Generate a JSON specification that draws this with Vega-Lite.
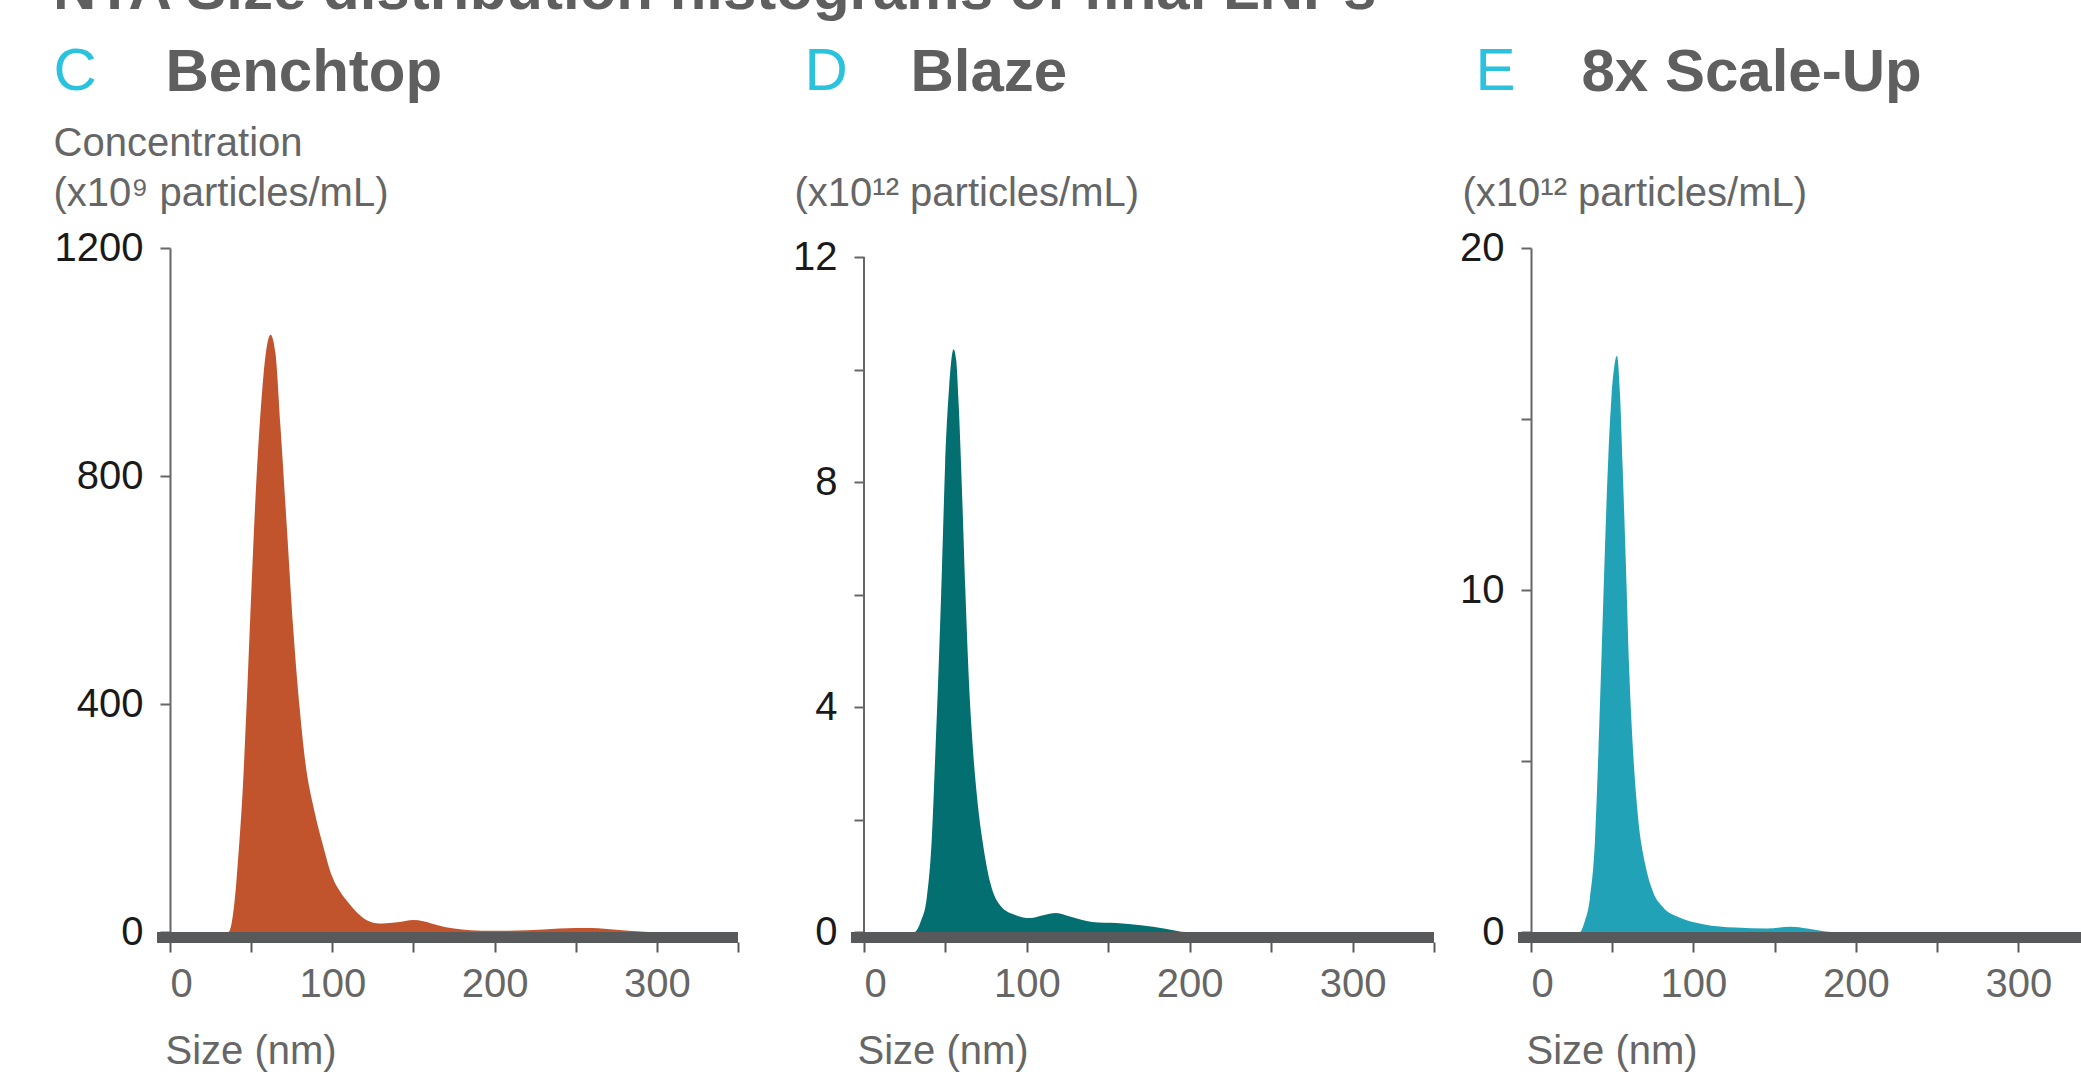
{
  "$schema": "https://vega.github.io/schema/vega-lite/v6.json",
  "autosize": {"type": "none"},
  "padding": {"left": 170, "top": 248, "right": 1911, "bottom": 834},
  "background": "white",
  "config": {
    "view": {"stroke": null},
    "font": "Liberation Sans",
    "axis": {"grid": false, "labelFont": "Liberation Sans", "titleFont": "Liberation Sans"}
  },
  "title": {
    "text": "NTA Size distribution histograms of final LNPs",
    "anchor": "start", "frame": "group", "dx": -117, "offset": 19,
    "fontSize": 60, "fontWeight": "bold", "color": "#5f5f5f", "font": "Liberation Sans"
  },
  "datasets": {
    "c": [
      {"size": 0, "conc": 0}, {"size": 30, "conc": 0}, {"size": 36, "conc": 0}, {"size": 40, "conc": 60},
      {"size": 42, "conc": 130}, {"size": 45, "conc": 260}, {"size": 47, "conc": 384}, {"size": 50, "conc": 590},
      {"size": 53, "conc": 780}, {"size": 56, "conc": 920}, {"size": 59, "conc": 1015}, {"size": 62, "conc": 1048},
      {"size": 65, "conc": 1015}, {"size": 68, "conc": 890}, {"size": 72, "conc": 710}, {"size": 76, "conc": 530},
      {"size": 80, "conc": 390}, {"size": 84, "conc": 285}, {"size": 88, "conc": 225}, {"size": 94, "conc": 155},
      {"size": 100, "conc": 97}, {"size": 105, "conc": 70}, {"size": 111, "conc": 48}, {"size": 116, "conc": 32},
      {"size": 121, "conc": 21}, {"size": 126, "conc": 16}, {"size": 131, "conc": 15}, {"size": 140, "conc": 17},
      {"size": 150, "conc": 21}, {"size": 156, "conc": 19}, {"size": 165, "conc": 12}, {"size": 175, "conc": 6},
      {"size": 185, "conc": 3}, {"size": 200, "conc": 2}, {"size": 220, "conc": 3}, {"size": 240, "conc": 6},
      {"size": 250, "conc": 7}, {"size": 260, "conc": 7}, {"size": 275, "conc": 4}, {"size": 290, "conc": 1},
      {"size": 300, "conc": 0}, {"size": 350, "conc": 0}
    ],
    "d": [
      {"size": 0, "conc": 0}, {"size": 31, "conc": 0}, {"size": 35, "conc": 0.2}, {"size": 38.6, "conc": 0.62},
      {"size": 41.6, "conc": 1.65}, {"size": 43.7, "conc": 3.1}, {"size": 45.7, "conc": 4.6}, {"size": 47.8, "conc": 6.4},
      {"size": 49.8, "conc": 8.3}, {"size": 52.3, "conc": 9.7}, {"size": 55, "conc": 10.36}, {"size": 56.6, "conc": 10.17},
      {"size": 58.1, "conc": 9.4}, {"size": 60.1, "conc": 7.9}, {"size": 62.2, "conc": 6.1}, {"size": 64.2, "conc": 4.6},
      {"size": 66.3, "conc": 3.5}, {"size": 69.4, "conc": 2.4}, {"size": 73.4, "conc": 1.5}, {"size": 77.5, "conc": 0.88},
      {"size": 83.7, "conc": 0.47}, {"size": 92, "conc": 0.31}, {"size": 102, "conc": 0.25}, {"size": 110, "conc": 0.3},
      {"size": 118, "conc": 0.34}, {"size": 127, "conc": 0.27}, {"size": 140, "conc": 0.18}, {"size": 155, "conc": 0.16},
      {"size": 170, "conc": 0.12}, {"size": 185, "conc": 0.06}, {"size": 198, "conc": 0}, {"size": 350, "conc": 0}
    ],
    "e": [
      {"size": 0, "conc": 0}, {"size": 30, "conc": 0}, {"size": 33, "conc": 0.3}, {"size": 36.3, "conc": 1.0},
      {"size": 39.4, "conc": 2.7}, {"size": 41.4, "conc": 5.15}, {"size": 43.5, "conc": 8.2}, {"size": 45.5, "conc": 11.2},
      {"size": 47.6, "conc": 13.9}, {"size": 49.6, "conc": 15.7}, {"size": 51.3, "conc": 16.55}, {"size": 52.9, "conc": 16.85},
      {"size": 54.8, "conc": 15.7}, {"size": 56.4, "conc": 13.6}, {"size": 58.5, "conc": 10.6}, {"size": 60.5, "conc": 7.6},
      {"size": 63, "conc": 5.15}, {"size": 66, "conc": 3.3}, {"size": 70.2, "conc": 2.0}, {"size": 75.3, "conc": 1.15},
      {"size": 81.4, "conc": 0.72}, {"size": 91.7, "conc": 0.42}, {"size": 106, "conc": 0.23}, {"size": 126, "conc": 0.13},
      {"size": 145, "conc": 0.1}, {"size": 160, "conc": 0.15}, {"size": 170, "conc": 0.1}, {"size": 185, "conc": 0},
      {"size": 338.5, "conc": 0}
    ]
  },
  "bounds": "flush",
  "spacing": 126,
  "hconcat": [
    {
      "width": 568, "height": 684,
      "resolve": {"axis": {"x": "independent", "y": "independent"}},
      "layer": [
        {
          "data": {"name": "c"},
          "mark": {"type": "area", "color": "#c1542d", "interpolate": "monotone"},
          "encoding": {
            "x": {"field": "size", "type": "quantitative", "scale": {"domain": [0, 350], "nice": false},
              "axis": {"orient": "bottom", "values": [0, 50, 100, 150, 200, 250, 300, 350],
                "labelExpr": "datum.value % 100 === 0 ? datum.label : ''",
                "domain": false, "offset": 10, "tickSize": 10, "tickWidth": 2, "tickColor": "#58595b",
                "labelFontSize": 40, "labelColor": "#666666", "labelPadding": 12,
                "title": "Size (nm)", "titleX": -5, "titleY": 121, "titleAlign": "left", "titleBaseline": "alphabetic",
                "titleFontSize": 40, "titleFontWeight": "normal", "titleColor": "#666666"}},
            "y": {"field": "conc", "type": "quantitative", "scale": {"domain": [0, 1200], "nice": false},
              "axis": {"orient": "left", "values": [0, 400, 800, 1200], "format": "d",
                "domainColor": "#666666", "domainWidth": 2, "tickSize": 10, "tickWidth": 2, "tickColor": "#666666",
                "labelFontSize": 40, "labelColor": "#1a1a1a", "labelPadding": 17,
                "title": ["Concentration", "(x10⁹ particles/mL)"], "titleAngle": 0, "titleX": -117, "titleY": -93,
                "titleAlign": "left", "titleBaseline": "alphabetic", "titleLineHeight": 50,
                "titleFontSize": 40, "titleFontWeight": "normal", "titleColor": "#666666"}}
          }
        },
        {
          "data": {"values": [{}]},
          "mark": {"type": "rule", "color": "#58595b", "strokeWidth": 11, "yOffset": 5.5},
          "encoding": {
            "x": {"datum": -8, "type": "quantitative",
              "axis": {"orient": "top", "domain": false, "ticks": false, "labels": false,
                "title": "C", "titleX": -117, "titleY": -159, "titleAlign": "left", "titleBaseline": "alphabetic",
                "titleFontSize": 60, "titleFontWeight": "normal", "titleColor": "#2bc2de"}},
            "x2": {"datum": 350},
            "y": {"datum": 0, "type": "quantitative",
              "axis": {"orient": "right", "domain": false, "ticks": false, "labels": false,
                "title": "Benchtop", "titleAngle": 0, "titleX": -573, "titleY": -158, "titleAlign": "left", "titleBaseline": "alphabetic",
                "titleFontSize": 60, "titleFontWeight": "bold", "titleColor": "#5f5f5f"}}
          }
        }
      ]
    },
    {
      "bounds": "flush",
      "spacing": 97,
      "hconcat": [
        {
          "width": 570, "height": 684,
          "resolve": {"axis": {"x": "independent", "y": "independent"}},
          "layer": [
            {
              "data": {"name": "d"},
              "mark": {"type": "area", "color": "#036f70", "interpolate": "monotone"},
              "encoding": {
                "x": {"field": "size", "type": "quantitative", "scale": {"domain": [0, 350], "nice": false},
                  "axis": {"orient": "bottom", "values": [0, 50, 100, 150, 200, 250, 300, 350],
                    "labelExpr": "datum.value % 100 === 0 ? datum.label : ''",
                    "domain": false, "offset": 10, "tickSize": 10, "tickWidth": 2, "tickColor": "#58595b",
                    "labelFontSize": 40, "labelColor": "#666666", "labelPadding": 12,
                    "title": "Size (nm)", "titleX": -7, "titleY": 121, "titleAlign": "left", "titleBaseline": "alphabetic",
                    "titleFontSize": 40, "titleFontWeight": "normal", "titleColor": "#666666"}},
                "y": {"field": "conc", "type": "quantitative", "scale": {"domain": [0, 12.16], "nice": false},
                  "axis": {"orient": "left", "values": [0, 2, 4, 6, 8, 10, 12],
                    "labelExpr": "datum.value % 4 === 0 ? datum.label : ''",
                    "domain": false, "tickSize": 10, "tickWidth": 2, "tickColor": "#666666",
                    "labelFontSize": 40, "labelColor": "#1a1a1a", "labelPadding": 17,
                    "title": "(x10¹² particles/mL)", "titleAngle": 0, "titleX": -70, "titleY": -43,
                    "titleAlign": "left", "titleBaseline": "alphabetic",
                    "titleFontSize": 40, "titleFontWeight": "normal", "titleColor": "#666666"}}
              }
            },
            {
              "data": {"values": [{}]},
              "mark": {"type": "rule", "color": "#666666", "strokeWidth": 2},
              "encoding": {
                "x": {"datum": 0, "type": "quantitative", "axis": null},
                "y": {"datum": 0, "type": "quantitative", "axis": null},
                "y2": {"datum": 12}
              }
            },
            {
              "data": {"values": [{}]},
              "mark": {"type": "rule", "color": "#58595b", "strokeWidth": 11, "yOffset": 5.5},
              "encoding": {
                "x": {"datum": -8, "type": "quantitative",
                  "axis": {"orient": "top", "domain": false, "ticks": false, "labels": false,
                    "title": "D", "titleX": -60, "titleY": -159, "titleAlign": "left", "titleBaseline": "alphabetic",
                    "titleFontSize": 60, "titleFontWeight": "normal", "titleColor": "#2bc2de"}},
                "x2": {"datum": 350},
                "y": {"datum": 0, "type": "quantitative",
                  "axis": {"orient": "right", "domain": false, "ticks": false, "labels": false,
                    "title": "Blaze", "titleAngle": 0, "titleX": -524, "titleY": -158, "titleAlign": "left", "titleBaseline": "alphabetic",
                    "titleFontSize": 60, "titleFontWeight": "bold", "titleColor": "#5f5f5f"}}
              }
            }
          ]
        },
        {
          "width": 550, "height": 684,
          "resolve": {"axis": {"x": "independent", "y": "independent"}},
          "layer": [
            {
              "data": {"name": "e"},
              "mark": {"type": "area", "color": "#22a2b7", "interpolate": "monotone"},
              "encoding": {
                "x": {"field": "size", "type": "quantitative", "scale": {"domain": [0, 338.5], "nice": false},
                  "axis": {"orient": "bottom", "values": [0, 50, 100, 150, 200, 250, 300],
                    "labelExpr": "datum.value % 100 === 0 ? datum.label : ''",
                    "domain": false, "offset": 10, "tickSize": 10, "tickWidth": 2, "tickColor": "#58595b",
                    "labelFontSize": 40, "labelColor": "#666666", "labelPadding": 12,
                    "title": "Size (nm)", "titleX": -5, "titleY": 121, "titleAlign": "left", "titleBaseline": "alphabetic",
                    "titleFontSize": 40, "titleFontWeight": "normal", "titleColor": "#666666"}},
                "y": {"field": "conc", "type": "quantitative", "scale": {"domain": [0, 20], "nice": false},
                  "axis": {"orient": "left", "values": [0, 5, 10, 15, 20],
                    "labelExpr": "datum.value % 10 === 0 ? datum.label : ''",
                    "domainColor": "#666666", "domainWidth": 2, "tickSize": 10, "tickWidth": 2, "tickColor": "#666666",
                    "labelFontSize": 40, "labelColor": "#1a1a1a", "labelPadding": 17,
                    "title": "(x10¹² particles/mL)", "titleAngle": 0, "titleX": -69, "titleY": -43,
                    "titleAlign": "left", "titleBaseline": "alphabetic",
                    "titleFontSize": 40, "titleFontWeight": "normal", "titleColor": "#666666"}}
              }
            },
            {
              "data": {"values": [{}]},
              "mark": {"type": "rule", "color": "#58595b", "strokeWidth": 11, "yOffset": 5.5},
              "encoding": {
                "x": {"datum": -8, "type": "quantitative",
                  "axis": {"orient": "top", "domain": false, "ticks": false, "labels": false,
                    "title": "E", "titleX": -56, "titleY": -159, "titleAlign": "left", "titleBaseline": "alphabetic",
                    "titleFontSize": 60, "titleFontWeight": "normal", "titleColor": "#2bc2de"}},
                "x2": {"datum": 338.5},
                "y": {"datum": 0, "type": "quantitative",
                  "axis": {"orient": "right", "domain": false, "ticks": false, "labels": false,
                    "title": "8x Scale-Up", "titleAngle": 0, "titleX": -500, "titleY": -158, "titleAlign": "left", "titleBaseline": "alphabetic",
                    "titleFontSize": 60, "titleFontWeight": "bold", "titleColor": "#5f5f5f"}}
              }
            }
          ]
        }
      ]
    }
  ]
}
